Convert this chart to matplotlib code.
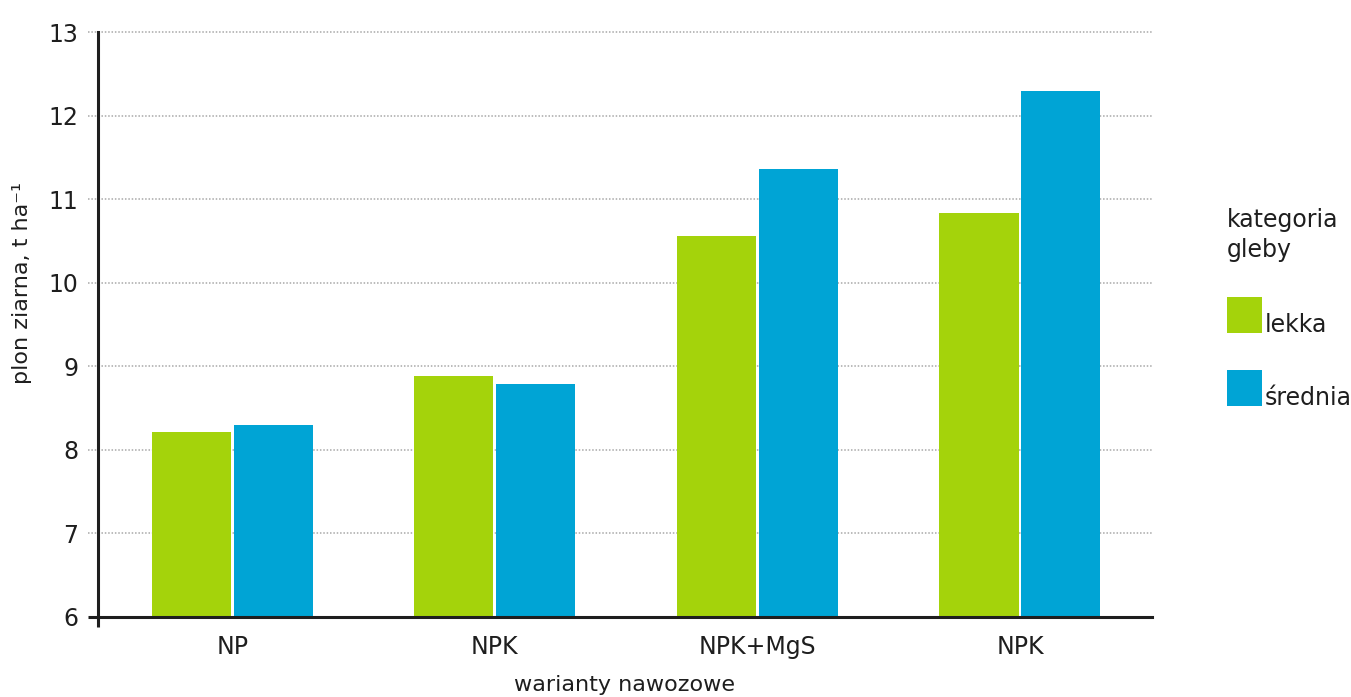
import matplotlib
matplotlib.use('Agg')
import matplotlib.pyplot as plt
import matplotlib.transforms as mtransforms
from matplotlib.patches import Rectangle
import numpy as np

plt.rcParams['font.family'] = ['DejaVu Sans']

# data
categories = ['NP', 'NPK', 'NPK+MgS', 'NPK']
lekka = [8.21, 8.88, 10.56, 10.83]
srednia = [8.30, 8.79, 11.36, 12.29]
series_names = ['lekka', 'średnia']
y_ticks = [6, 7, 8, 9, 10, 11, 12, 13]

green = '#a4d30b'
blue = '#00a4d5'
dark = '#1e1e1e'

fig = plt.figure(figsize=(13.51, 6.97), dpi=100)
ax = fig.add_axes([0.0725, 0.1148, 0.7802, 0.8392])

x = np.arange(len(categories))
w = 0.301
off = 0.156
ax.bar(x - off, lekka, w, color=green)
ax.bar(x + off, srednia, w, color=blue)

ax.set_ylim(6, 13)
ax.set_xlim(-0.512, 3.503)
ax.set_yticks(y_ticks)
ax.set_xticks(x)
ax.set_xticklabels(categories)

# dotted grid lines, starting slightly left of the axis
trans = mtransforms.blended_transform_factory(ax.transAxes, ax.transData)
for yv in y_ticks[1:]:
    ax.plot([-0.0095, 1.0], [yv, yv], transform=trans, color='#a8a8a8',
            linestyle=(0, (1, 1.2)), linewidth=1.1, clip_on=False, zorder=0)

for s in ['top', 'right']:
    ax.spines[s].set_visible(False)
for s in ['left', 'bottom']:
    ax.spines[s].set_color(dark)
    ax.spines[s].set_linewidth(2.2)
    ax.spines[s].set_zorder(5)
# little overhangs of the axes
ax.plot([-0.0095, 0], [6, 6], transform=trans, color=dark, linewidth=2.2,
        clip_on=False, solid_capstyle='butt')
ax.plot([0, 0], [0, -0.017], transform=ax.transAxes, color=dark, linewidth=2.2,
        clip_on=False, solid_capstyle='butt')

ax.tick_params(axis='both', length=0, labelsize=17, colors=dark)
ax.tick_params(axis='y', pad=14)
ax.tick_params(axis='x', pad=13)

fig.text(0.4625, 0.009, 'warianty nawozowe', fontsize=16, color=dark,
         ha='center', va='baseline')
fig.text(0.016, 0.594, 'plon ziarna, t ha⁻¹', rotation=90, fontsize=16,
         color=dark, ha='center', va='center')

# legend on the right
fig.text(0.908, 0.6313, 'kategoria\ngleby', fontsize=17, color=dark,
         ha='left', va='baseline', linespacing=1.3)
pw, ph = 35 / 1351, 36 / 697
for i, (name, col) in enumerate(zip(series_names, [green, blue])):
    ytop = [297, 370][i]
    ybot = 1 - (ytop + 36) / 697
    fig.add_artist(Rectangle((1227 / 1351, ybot), pw, ph, transform=fig.transFigure,
                             facecolor=col, edgecolor='none'))
    fig.text(1265 / 1351, ybot + 0.002, name, fontsize=17, color=dark,
             ha='left', va='baseline')

fig.savefig('out.png', dpi=100)
